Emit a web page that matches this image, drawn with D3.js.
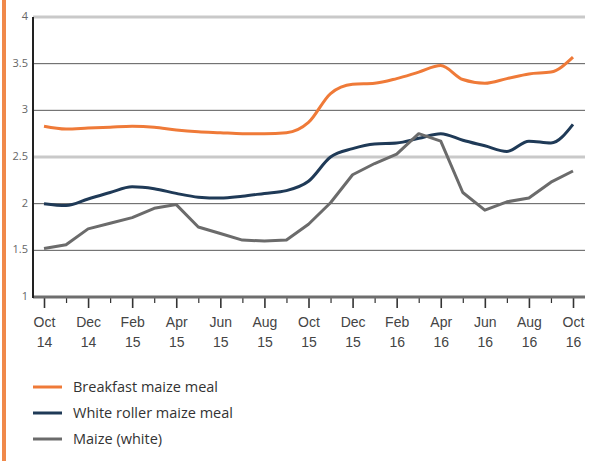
<!DOCTYPE html>
<html><head><meta charset="utf-8">
<script src="https://cdn.jsdelivr.net/npm/d3@7"></script>
<style>
html,body{margin:0;padding:0;background:#fff;}
svg{display:block;font-family:"Open Sans","Noto Sans",sans-serif;}
</style></head>
<body>
<svg id="c" width="600" height="461"></svg>
<script>
const months = ["Oct 14","Nov 14","Dec 14","Jan 15","Feb 15","Mar 15","Apr 15","May 15","Jun 15","Jul 15","Aug 15","Sep 15",
  "Oct 15","Nov 15","Dec 15","Jan 16","Feb 16","Mar 16","Apr 16","May 16","Jun 16","Jul 16","Aug 16","Sep 16","Oct 16"];
const breakfast = [2.83,2.80,2.81,2.82,2.83,2.82,2.79,2.77,2.76,2.75,2.75,2.76,2.87,3.18,3.28,3.29,3.34,3.41,3.48,3.33,3.29,3.34,3.39,3.41,3.57];
const whiteRoller = [2.00,1.98,2.05,2.12,2.18,2.16,2.11,2.07,2.06,2.08,2.11,2.14,2.24,2.50,2.59,2.64,2.65,2.70,2.75,2.68,2.62,2.56,2.67,2.65,2.85];
const maize = [1.52,1.56,1.73,1.79,1.85,1.95,1.99,1.75,1.68,1.61,1.60,1.61,1.78,2.01,2.31,2.43,2.53,2.75,2.67,2.12,1.93,2.02,2.06,2.23,2.35];
const yTicks = [1,1.5,2,2.5,3,3.5,4];
const yTickLabels = ["1","1.5","2","2.5","3","3.5","4"];
const seriesNames = ["Breakfast maize meal","White roller maize meal","Maize (white)"];

const svg = d3.select("#c");
// left orange border
svg.append("rect").attr("x",2).attr("y",0).attr("width",4).attr("height",461).attr("fill","#f0894a");

const x = d3.scalePoint().domain(months).range([44,573]);
const y = d3.scaleLinear().domain([1,4]).range([297,17]);

// gridlines
const thick = new Set([4,2.5]);
svg.append("g").selectAll("line").data(yTicks.filter(v=>v!==1)).join("line")
  .attr("x1",33).attr("x2",585).attr("y1",d=>y(d)).attr("y2",d=>y(d))
  .attr("stroke",d=>thick.has(d)?"#c9c9c9":"#5a5a5a")
  .attr("stroke-width",d=>thick.has(d)?3:1);

// y axis labels
svg.append("g").selectAll("text").data(yTicks).join("text")
  .attr("x",28).attr("y",(d)=>y(d)-1).attr("text-anchor","end")
  .attr("font-size",11).attr("fill","#666").attr("dy","0.35em")
  .text((d,i)=>yTickLabels[i]);

// x axis using d3 axis for ticks
const xAxis = d3.axisBottom(x).tickSize(0).tickFormat("");
const gx = svg.append("g").attr("transform","translate(0,297)").call(xAxis);
gx.select(".domain").remove();
gx.selectAll(".tick").append("line")
  .attr("y1",0).attr("y2",(d,i)=>i%2===0?11:6)
  .attr("stroke","#333").attr("stroke-width",(d,i)=>i%2===0?1.6:1.2);
gx.selectAll(".tick").filter((d,i)=>i%2===0).each(function(d){
  const parts=d.split(" ");
  const g=d3.select(this);
  g.append("text").attr("y",30).attr("text-anchor","middle").attr("font-size",14).attr("fill","#444").text(parts[0]);
  g.append("text").attr("y",50).attr("text-anchor","middle").attr("font-size",14).attr("fill","#444").text(parts[1]);
});
// x axis baseline
svg.append("line").attr("x1",33).attr("x2",585).attr("y1",y(1)).attr("y2",y(1)).attr("stroke","#6e6e6e").attr("stroke-width",3);
// y axis line
svg.append("line").attr("x1",33).attr("x2",33).attr("y1",y(4)).attr("y2",y(1)+1).attr("stroke","#222").attr("stroke-width",2);

const colors = ["#ef7a38","#1f3a57","#6b6b6b"];
const data = [breakfast, whiteRoller, maize];
const curves = [d3.curveMonotoneX, d3.curveMonotoneX, d3.curveLinear];
data.forEach((vals,k)=>{
  const line = d3.line().x((d,i)=>x(months[i])).y(d=>y(d)).curve(curves[k]);
  svg.append("path").datum(vals).attr("d",line).attr("fill","none")
    .attr("stroke",colors[k]).attr("stroke-width",3).attr("stroke-linejoin","round");
});

// legend
const lg = svg.append("g").selectAll("g").data(seriesNames).join("g")
  .attr("transform",(d,i)=>`translate(33,${387+i*26})`);
lg.append("line").attr("x1",0).attr("x2",29).attr("stroke",(d,i)=>colors[i]).attr("stroke-width",3);
lg.append("text").attr("x",40).attr("dy","0.35em").attr("font-size",14.5).attr("fill","#333").text(d=>d);
</script>
</body></html>
